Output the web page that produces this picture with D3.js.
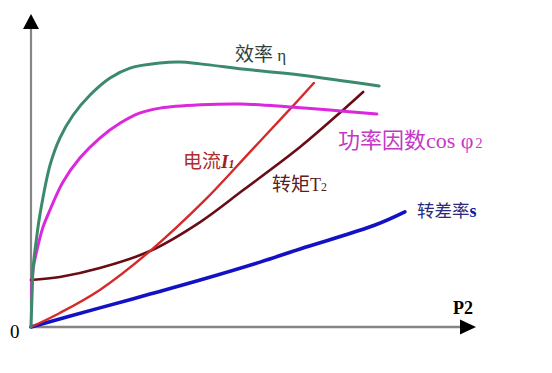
<!DOCTYPE html>
<html><head><meta charset="utf-8">
<script src="https://cdn.jsdelivr.net/npm/d3@7"></script>
<style>body{margin:0;background:#fff}svg{display:block}</style>
</head><body>
<script>
// P2 (load) axis values, 0..100 relative units; curves in relative units 0..100
const effP = [0, 0.2, 0.5, 1.4, 2.0, 4.3, 6.5, 9.5, 13.3, 17.8, 22.3, 29.1, 33.6, 38.1, 49.3, 60.6, 78.4];
const effV = [0, 9.0, 20.1, 31.4, 37.5, 54.2, 63.2, 70.9, 77.6, 83.3, 86.6, 88.3, 88.6, 88.0, 86.0, 84.3, 80.6];

const cosP = [0.1, 0.45, 1.35, 2.7, 3.8, 7.2, 11.0, 15.5, 20.1, 24.6, 29.1, 38.1, 47.1, 58.3, 67.3, 77.9];
const cosV = [10.0, 19.1, 25.8, 33.4, 37.5, 48.5, 56.5, 63.2, 68.2, 71.6, 73.2, 74.3, 74.6, 73.6, 72.6, 71.2];

const curP = [0, 6.5, 15.5, 26.8, 39.2, 49.3, 58.8, 63.7];
const curV = [0, 4.7, 12.4, 25.4, 42.5, 58.5, 73.6, 81.6];

const torP = [0, 6.5, 15.5, 26.8, 38.1, 47.8, 60.6, 70.3, 74.8];
const torV = [15.7, 16.7, 19.7, 25.4, 35.1, 45.8, 60.2, 72.6, 78.6];

const slipP = [0, 15.5, 26.8, 38.1, 51.6, 60.6, 77.5, 84.2];
const slipV = [0, 6.4, 11.0, 15.7, 21.7, 26.1, 34.1, 38.5];

const W = 552, H = 373;
const svg = d3.select("body").append("svg").attr("width", W).attr("height", H);

const x = d3.scaleLinear().domain([0, 100]).range([31, 475]);
const y = d3.scaleLinear().domain([0, 100]).range([327, 28]);

const zip = (a, b) => a.map((v, i) => [v, b[i]]);
const line = d3.line().x(d => x(d[0])).y(d => y(d[1])).curve(d3.curveCatmullRom.alpha(0.5));

// axes
const axisColor = "#858585";
svg.append("line").attr("x1", x(0)).attr("x2", x(100) - 14)
  .attr("y1", y(0)).attr("y2", y(0)).attr("stroke", axisColor).attr("stroke-width", 2.6);
svg.append("line").attr("x1", x(0)).attr("x2", x(0))
  .attr("y1", y(0) + 1).attr("y2", y(100) + 1).attr("stroke", axisColor).attr("stroke-width", 2.2);
svg.append("path")
  .attr("d", `M${x(100) - 15},${y(0) - 7.5} L${x(100) + 1},${y(0)} L${x(100) - 15},${y(0) + 7.5} Z`)
  .attr("fill", "#000");
svg.append("path")
  .attr("d", `M${x(0) - 8},${y(100) + 1} L${x(0)},${y(100) - 14} L${x(0) + 8},${y(100) + 1} Z`)
  .attr("fill", "#000");

// curves
const series = [
  {p: slipP, v: slipV, color: "#1212c4", w: 3.6},
  {p: torP, v: torV, color: "#6a0c16", w: 2.6},
  {p: curP, v: curV, color: "#d42a2a", w: 2.4},
  {p: cosP, v: cosV, color: "#dc28dc", w: 3},
  {p: effP, v: effV, color: "#3c8a6c", w: 3}
];
series.forEach(s => {
  svg.append("path").attr("d", line(zip(s.p, s.v)))
    .attr("fill", "none").attr("stroke", s.color).attr("stroke-width", s.w)
    .attr("stroke-linecap", "round").attr("stroke-linejoin", "round");
});

const cjk = "'Noto Sans CJK SC', sans-serif";
const serif = "'Liberation Serif', 'DejaVu Serif', serif";

function label(xp, yp, parts) {
  const t = svg.append("text").attr("x", xp).attr("y", yp);
  parts.forEach(p => {
    const ts = t.append("tspan").text(p.t)
      .attr("font-family", p.f || cjk).attr("font-size", p.s)
      .attr("fill", p.c);
    if (p.w) ts.attr("font-weight", p.w);
    if (p.i) ts.attr("font-style", "italic");
    if (p.dx) ts.attr("dx", p.dx);
  });
  return t;
}

label(235, 61, [
  {t: "效率", s: 19, c: "#2e3e38"},
  {t: " η", s: 17, c: "#2e3e38", f: serif}
]);
label(338, 148, [
  {t: "功率因数", s: 22, c: "#c538c5"},
  {t: "cos", s: 22, c: "#c538c5", f: serif},
  {t: " φ", s: 22, c: "#c538c5", f: serif},
  {t: "2", s: 14, c: "#c538c5", f: serif, dx: 2}
]);
label(183, 168, [
  {t: "电流", s: 19, c: "#b02c2c"},
  {t: "I", s: 19, c: "#a02020", f: serif, w: "bold", i: true},
  {t: "1", s: 12, c: "#a02020", f: serif, w: "bold", i: true}
]);
label(272, 191, [
  {t: "转矩", s: 19, c: "#5a2020"},
  {t: "T", s: 18, c: "#5a2020", f: serif},
  {t: "2", s: 12, c: "#5a2020", f: serif}
]);
label(417, 217, [
  {t: "转差率", s: 17.5, c: "#2a2a7a"},
  {t: "s", s: 18, c: "#0a1aa0", f: serif, w: "bold"}
]);
label(453, 314, [
  {t: "P2", s: 18, c: "#000", f: serif, w: "bold"}
]);
label(10, 338, [
  {t: "0", s: 19, c: "#000", f: serif}
]);
</script>
</body></html>
